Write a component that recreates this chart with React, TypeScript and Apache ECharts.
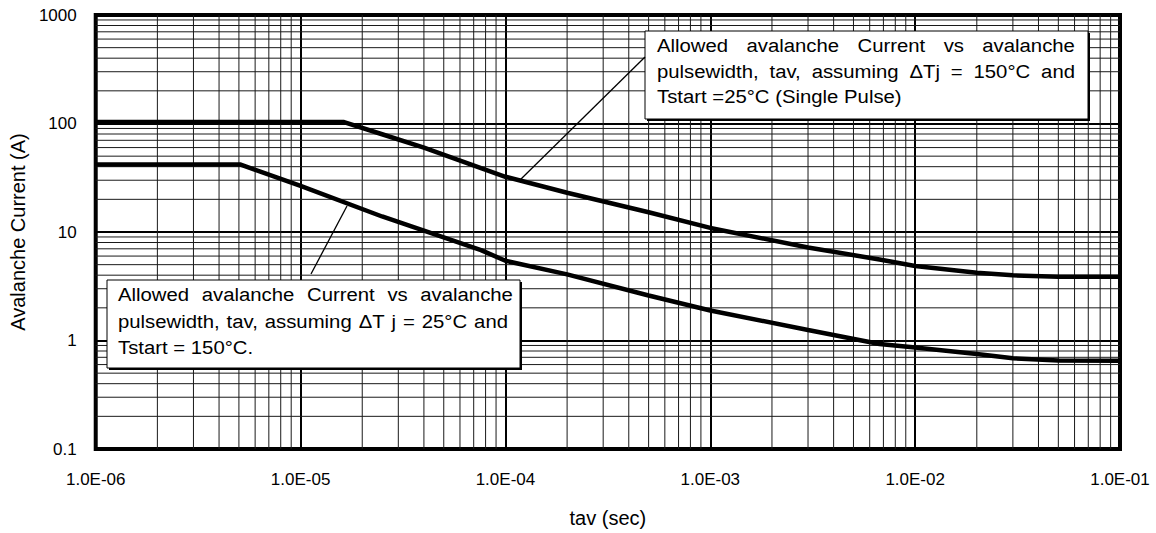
import React, { useEffect, useRef } from 'react';
import * as echarts from 'echarts';

// ---- data ----
const upperTav = [1e-6, 1.63e-5, 2.5e-5, 4e-5, 7.6e-5, 1e-4, 2e-4, 5e-4, 1e-3, 3e-3, 6.7e-3, 1e-2, 2e-2, 3e-2, 5e-2, 1e-1];
const upperCurrent = [103, 103, 79.6, 60, 38.7, 32.3, 23, 15.2, 10.9, 7.2, 5.58, 4.86, 4.22, 3.99, 3.86, 3.86];
const lowerTav = [1e-6, 5.1e-6, 1e-5, 2.5e-5, 4e-5, 7.6e-5, 1e-4, 2e-4, 5e-4, 1e-3, 3e-3, 6.7e-3, 1e-2, 2e-2, 3e-2, 5e-2, 1e-1];
const lowerCurrent = [41.8, 41.8, 26.6, 13.9, 10.3, 6.8, 5.43, 4.07, 2.6, 1.89, 1.25, 0.927, 0.863, 0.752, 0.686, 0.653, 0.65];

// axis ranges / grid decades
const xMin = 1e-6;
const xMax = 1e-1;
const yMin = 0.1;
const yMax = 1000;
const xDecades = [1e-6, 1e-5, 1e-4, 1e-3, 1e-2];
const yDecades = [0.1, 1, 10, 100];
const minorMultipliers = [2, 3, 4, 5, 6, 7, 8, 9];

const xName = 'tav (sec)';
const yName = 'Avalanche Current (A)';

const box1Lines = [
  'Allowed avalanche Current vs avalanche',
  'pulsewidth, tav, assuming \u0394Tj = 150\u00B0C and',
  'Tstart =25\u00B0C (Single Pulse)',
];
const box2Lines = [
  'Allowed avalanche Current vs avalanche',
  'pulsewidth, tav, assuming \u0394T j = 25\u00B0C and',
  'Tstart = 150\u00B0C.',
];

const FONT = 'Liberation Sans';
const NOTE_SIZE = 19;
const NOTE_SCALE = 1.07;

let measureCtx: CanvasRenderingContext2D | null = null;
function measure(text: string): number {
  if (!measureCtx) {
    const c = document.createElement('canvas');
    measureCtx = c.getContext('2d');
  }
  if (!measureCtx) return text.length * NOTE_SIZE * 0.5;
  measureCtx.font = `${NOTE_SIZE}px "${FONT}"`;
  return measureCtx.measureText(text).width;
}

function noteLine(text: string, x0: number, x1: number | null, yc: number): any[] {
  const base = (t: string, x: number) => ({
    type: 'text',
    x,
    y: yc,
    scaleX: NOTE_SCALE,
    z: 110,
    silent: true,
    style: {
      text: t,
      x: 0,
      y: 0,
      fill: '#000',
      fontFamily: FONT,
      fontSize: NOTE_SIZE,
      align: 'left',
      verticalAlign: 'middle',
    },
  });
  if (x1 == null) return [base(text, x0)];
  const words = text.split(' ');
  const widths = words.map((w) => measure(w) * NOTE_SCALE);
  const total = widths.reduce((a, b) => a + b, 0);
  const gap = (x1 - x0 - total) / (words.length - 1);
  const out: any[] = [];
  let x = x0;
  words.forEach((w, i) => {
    out.push(base(w, x));
    x += widths[i] + gap;
  });
  return out;
}

function box(x: number, y: number, w: number, h: number): any[] {
  return [
    { type: 'rect', z: 100, silent: true, shape: { x: x + 2, y: y + 2, width: w, height: h }, style: { fill: '#000' } },
    { type: 'rect', z: 101, silent: true, shape: { x, y, width: w, height: h }, style: { fill: '#fff', stroke: '#000', lineWidth: 1 } },
  ];
}

const xMinor: number[] = [];
xDecades.forEach((d) => minorMultipliers.forEach((m) => xMinor.push(d * m)));
const yMinor: number[] = [];
yDecades.forEach((d) => minorMultipliers.forEach((m) => yMinor.push(d * m)));

function xLabel(v: number): string {
  const e = Math.round(Math.log10(v));
  return '1.0E' + (e < 0 ? '-' : '+') + String(Math.abs(e)).padStart(2, '0');
}
function yLabel(v: number): string {
  return String(Number(v.toPrecision(3)));
}

export default function App() {
  const ref = useRef<HTMLDivElement>(null);
  useEffect(() => {
    if (!ref.current) return;
    const chart = echarts.init(ref.current, undefined, { renderer: 'svg' });

    const graphicEls: any[] = [
      // leader lines
      { type: 'line', z: 105, silent: true, shape: { x1: 520, y1: 180, x2: 645, y2: 57 }, style: { stroke: '#000', lineWidth: 1.3 } },
      { type: 'line', z: 105, silent: true, shape: { x1: 347, y1: 206, x2: 311, y2: 274 }, style: { stroke: '#000', lineWidth: 1.3 } },
      ...box(645, 31, 443, 88),
      ...box(107, 280, 413, 88),
      ...noteLine(box1Lines[0], 657, 1075, 45.5),
      ...noteLine(box1Lines[1], 657, 1075, 71.5),
      ...noteLine(box1Lines[2], 657, null, 96.5),
      ...noteLine(box2Lines[0], 118, 513, 294.5),
      ...noteLine(box2Lines[1], 118, 508, 321),
      ...noteLine(box2Lines[2], 118, null, 347),
    ];

    const option: any = {
      animation: false,
      backgroundColor: '#fff',
      textStyle: { fontFamily: FONT, color: '#000' },
      grid: {
        left: 94,
        right: 36,
        top: 15,
        bottom: 80,
        show: true,
        borderColor: '#000',
        borderWidth: 4,
        backgroundColor: 'transparent',
      },
      xAxis: {
        type: 'log',
        logBase: 10,
        min: xMin,
        max: xMax,
        name: xName,
        nameLocation: 'middle',
        nameGap: 59,
        nameTextStyle: { fontSize: 20, color: '#000', fontFamily: FONT },
        axisLine: { show: false },
        axisTick: { show: false },
        axisLabel: { fontSize: 17, color: '#000', margin: 22, formatter: xLabel, fontFamily: FONT },
        splitLine: { show: true, lineStyle: { color: '#000', width: 2 } },
      },
      yAxis: {
        type: 'log',
        logBase: 10,
        min: yMin,
        max: yMax,
        name: yName,
        nameLocation: 'middle',
        nameGap: 66,
        nameTextStyle: { fontSize: 20, color: '#000', fontFamily: FONT },
        axisLine: { show: false },
        axisTick: { show: false },
        axisLabel: { fontSize: 17, color: '#000', margin: 19, formatter: yLabel, fontFamily: FONT },
        splitLine: { show: true, lineStyle: { color: '#000', width: 2 } },
      },
      series: [
        {
          type: 'custom',
          name: 'xMinorGrid',
          silent: true,
          z: 1,
          data: xMinor.map((v) => [v, 1]),
          renderItem: (params: any, api: any) => {
            const p = api.coord([api.value(0), 1]);
            const cs = params.coordSys;
            return {
              type: 'line',
              shape: { x1: p[0], y1: cs.y, x2: p[0], y2: cs.y + cs.height },
              style: { stroke: '#1a1a1a', lineWidth: 1 },
            };
          },
        },
        {
          type: 'custom',
          name: 'yMinorGrid',
          silent: true,
          z: 1,
          data: yMinor.map((v) => [1e-3, v]),
          renderItem: (params: any, api: any) => {
            const p = api.coord([1e-3, api.value(1)]);
            const cs = params.coordSys;
            return {
              type: 'line',
              shape: { x1: cs.x, y1: p[1], x2: cs.x + cs.width, y2: p[1] },
              style: { stroke: '#1a1a1a', lineWidth: 1 },
            };
          },
        },
        {
          type: 'line',
          name: 'dTj=150C, Tstart=25C',
          z: 5,
          showSymbol: false,
          symbol: 'none',
          data: upperTav.map((t, i) => [t, upperCurrent[i]]),
          lineStyle: { color: '#000', width: 4.5 },
        },
        {
          type: 'line',
          name: 'dTj=25C, Tstart=150C',
          z: 5,
          showSymbol: false,
          symbol: 'none',
          data: lowerTav.map((t, i) => [t, lowerCurrent[i]]),
          lineStyle: { color: '#000', width: 4.5 },
        },
      ],
      graphic: { elements: graphicEls },
    };
    chart.setOption(option);
    return () => chart.dispose();
  }, []);

  return <div ref={ref} style={{ position: 'absolute', left: 0, top: 0, width: 1156, height: 533 }} />;
}
